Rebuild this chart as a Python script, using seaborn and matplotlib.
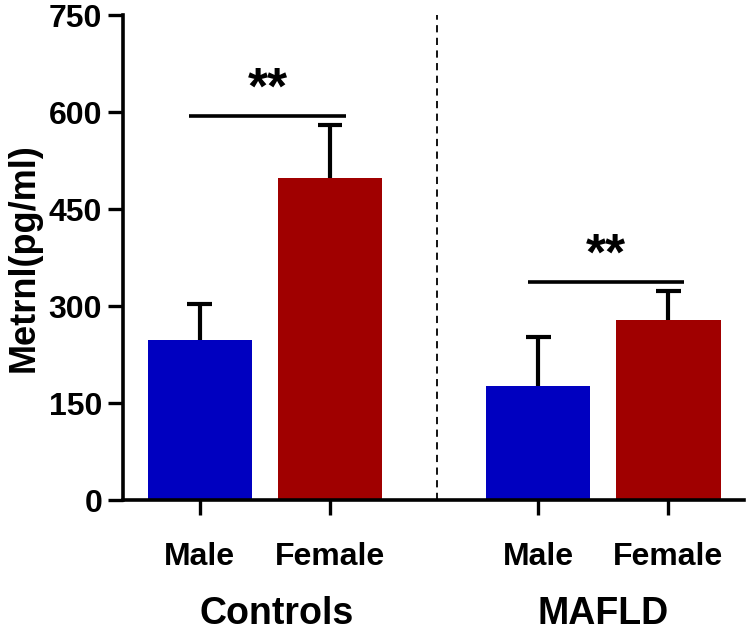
import numpy as np
import pandas as pd
import matplotlib
matplotlib.use("Agg")
import matplotlib.pyplot as plt
import seaborn as sns

# values
groups = ["Controls", "Controls", "MAFLD", "MAFLD"]
sexes = ["Male", "Female", "Male", "Female"]
means = [248, 498, 176, 278]
sds = [56, 82, 77, 45]
xpos = [0, 1, 2.6, 3.6]
sig_y = [594, 338]
colors = {"Male": "#0000C0", "Female": "#A00000"}

df = pd.DataFrame({"x": xpos, "group": groups, "sex": sexes, "mean": means, "sd": sds})

sns.set_style("ticks")
plt.rcParams["font.family"] = ["Liberation Sans", "DejaVu Sans"]
plt.rcParams["font.weight"] = "bold"
plt.rcParams["text.color"] = "black"
plt.rcParams["axes.labelcolor"] = "black"
plt.rcParams["xtick.color"] = "black"
plt.rcParams["ytick.color"] = "black"
plt.rcParams["axes.edgecolor"] = "black"

fig = plt.figure(figsize=(7.5, 6.34), dpi=100)
ax = fig.add_axes([0.164, 0.211, 0.828, 0.765])

sns.barplot(data=df, x="x", y="mean", hue="sex", palette=colors, native_scale=True,
            dodge=False, width=0.8, errorbar=None, legend=False, ax=ax,
            linewidth=0, saturation=1, zorder=2)

# upward-only SD bars: stem from bar top, cap only at the top
top = df["mean"] + df["sd"]
ax.vlines(df["x"], df["mean"], top, color="black", lw=3, zorder=1)
ax.hlines(top, df["x"] - 0.095, df["x"] + 0.095, color="black", lw=3, zorder=1)

# significance bars
for i, (g, y) in enumerate(zip(["Controls", "MAFLD"], sig_y)):
    x0 = xpos[2 * i]
    ax.plot([x0 - 0.08, x0 + 1.12], [y, y], color="black", lw=2.6, solid_capstyle="butt")
    ax.text(x0 + 0.52, y + 2, "**", ha="center", va="bottom", fontsize=37, fontweight="bold")

# separator between groups
ax.axvline(1.82, color="black", lw=1.3, ls=(0, (4, 3)), zorder=0)

ax.set_xlim(-0.59, 4.18)
ax.set_ylim(0, 750)
ax.set_yticks([0, 150, 300, 450, 600, 750])
ax.set_xticks(xpos)
ax.set_xticklabels(sexes)
ax.set_xlabel("")
ax.set_ylabel("Metrnl(pg/ml)", fontsize=26, fontweight="bold", labelpad=5)
ax.tick_params(axis="y", labelsize=23, width=2.4, length=11, pad=4)
ax.tick_params(axis="x", labelsize=23, width=2.4, length=11, pad=19)
for lab in ax.get_xticklabels() + ax.get_yticklabels():
    lab.set_fontweight("bold")

for g, x0, off in zip(["Controls", "MAFLD"], [xpos[0], xpos[2]], [0.59, 0.5]):
    ax.text(x0 + off, -191, g, ha="center", va="baseline", fontsize=27, fontweight="bold",
            clip_on=False)

sns.despine(ax=ax)
for s in ["left", "bottom"]:
    ax.spines[s].set_linewidth(2.6)

fig.savefig("out.png", dpi=100)
